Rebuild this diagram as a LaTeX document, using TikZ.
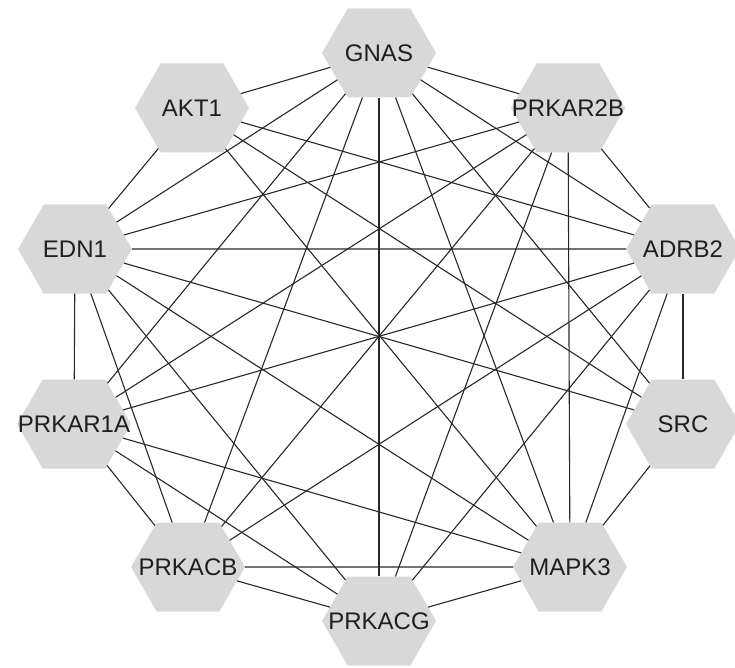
\documentclass[tikz,border=0pt]{standalone}
\usepackage{fontspec}
\setmainfont{Liberation Sans}
\usetikzlibrary{shapes.symbols}
\definecolor{genefill}{RGB}{216,216,216}
\definecolor{linkgray}{RGB}{40,40,40}
\newcommand{\gname}[1]{\makebox[0pt]{#1}}
\begin{document}
\begin{tikzpicture}[x=1pt,y=-1pt,
  gene/.style={shape=signal, signal to=east and west, signal pointer angle=120, fill=genefill, minimum width=114pt, minimum height=89pt, inner sep=0pt, outer sep=0pt, text=black!88, font=\fontsize{24}{26}\selectfont},
  link/.style={draw=linkgray, line width=1.1pt}]
\useasboundingbox (0,0) rectangle (735,668);
\node[gene] (gnas) at (379,53) {\gname{GNAS}};
\node[gene] (akt1) at (192,108) {\gname{AKT1}};
\node[gene] (prkar2b) at (568,108) {\gname{PRKAR2B}};
\node[gene] (edn1) at (75,249) {\gname{EDN1}};
\node[gene] (adrb2) at (683,249) {\gname{ADRB2}};
\node[gene] (prkar1a) at (74,424) {\gname{PRKAR1A}};
\node[gene] (src) at (683,424) {\gname{SRC}};
\node[gene] (prkacb) at (188,567) {\gname{PRKACB}};
\node[gene] (mapk3) at (570,567) {\gname{MAPK3}};
\node[gene] (prkacg) at (379,621) {\gname{PRKACG}};
\draw[link] (gnas) -- (akt1);
\draw[link] (gnas) -- (prkar2b);
\draw[link] (gnas) -- (edn1);
\draw[link] (gnas) -- (adrb2);
\draw[link] (gnas) -- (prkar1a);
\draw[link] (gnas) -- (src);
\draw[link] (gnas) -- (prkacb);
\draw[link] (gnas) -- (mapk3);
\draw[link] (gnas) -- (prkacg);
\draw[link] (akt1) -- (edn1);
\draw[link] (akt1) -- (adrb2);
\draw[link] (akt1) -- (src);
\draw[link] (akt1) -- (mapk3);
\draw[link] (prkar2b) -- (adrb2);
\draw[link] (prkar2b) -- (mapk3);
\draw[link] (prkar2b) -- (edn1);
\draw[link] (prkar2b) -- (prkar1a);
\draw[link] (prkar2b) -- (prkacb);
\draw[link] (prkar2b) -- (prkacg);
\draw[link] (edn1) -- (adrb2);
\draw[link] (edn1) -- (prkar1a);
\draw[link] (edn1) -- (src);
\draw[link] (edn1) -- (mapk3);
\draw[link] (edn1) -- (prkacg);
\draw[link] (edn1) -- (prkacb);
\draw[link] (adrb2) -- (src);
\draw[link] (adrb2) -- (prkar1a);
\draw[link] (adrb2) -- (prkacb);
\draw[link] (adrb2) -- (prkacg);
\draw[link] (adrb2) -- (mapk3);
\draw[link] (prkar1a) -- (mapk3);
\draw[link] (prkar1a) -- (prkacg);
\draw[link] (prkar1a) -- (prkacb);
\draw[link] (src) -- (mapk3);
\draw[link] (prkacb) -- (mapk3);
\draw[link] (prkacb) -- (prkacg);
\draw[link] (mapk3) -- (prkacg);
\end{tikzpicture}
\end{document}
